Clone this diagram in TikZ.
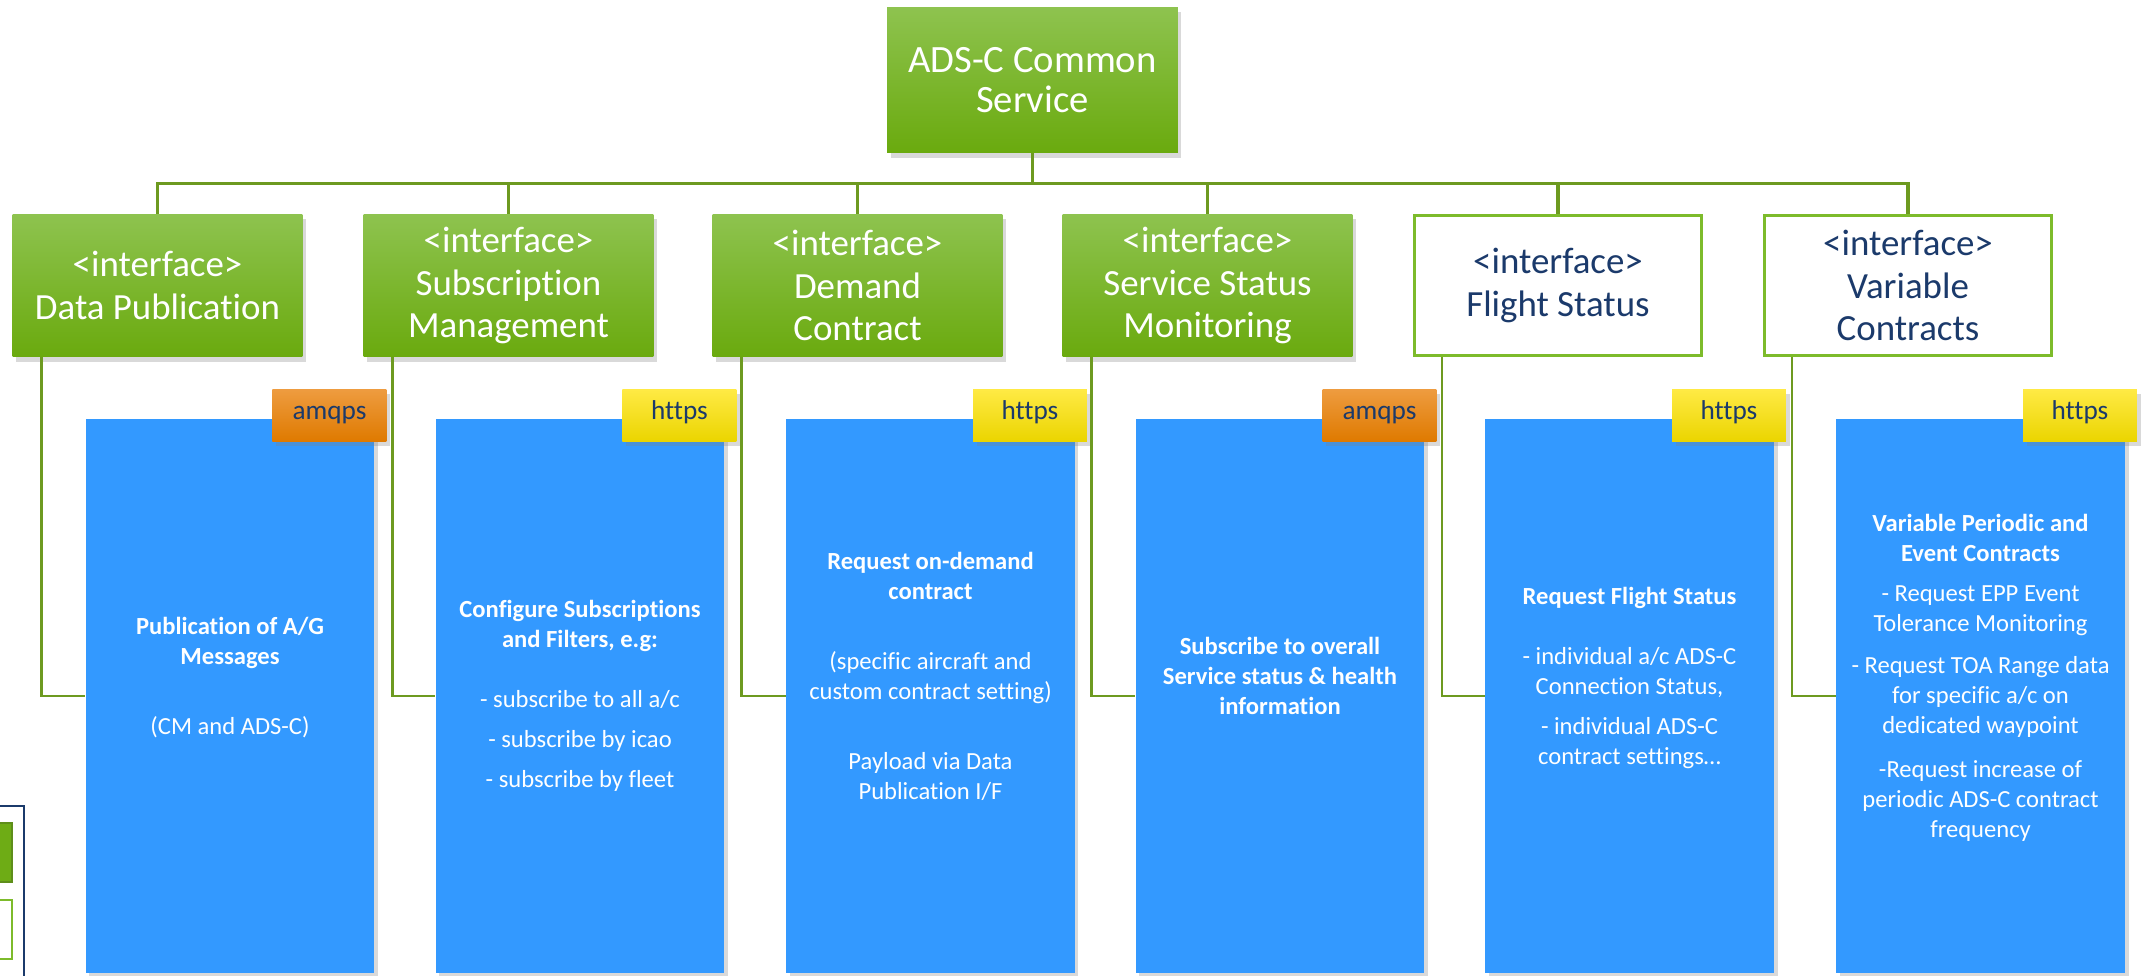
\documentclass[tikz,border=0pt]{standalone}
\usepackage{fontspec}
\setmainfont[Ligatures=NoCommon]{Carlito}
\usepackage{tikz}
\usetikzlibrary{positioning,shadows}

\definecolor{leaftop}{HTML}{8EC34F}
\definecolor{leafbottom}{HTML}{6AAA0E}
\definecolor{leafdark}{HTML}{5E8E1A}
\definecolor{linegreen}{HTML}{6D9A20}
\definecolor{rimgreen}{HTML}{7DBB2B}
\definecolor{skyblue}{HTML}{3399FF}
\definecolor{navytext}{HTML}{1B3A6B}
\definecolor{orangetop}{HTML}{EE9C40}
\definecolor{orangebottom}{HTML}{DF7A00}
\definecolor{yellowtop}{HTML}{FFEA45}
\definecolor{yellowbottom}{HTML}{EBD500}

\begin{document}
\begin{tikzpicture}[x=0.02cm,y=-0.02cm,
  boxshadow/.style={drop shadow={shadow xshift=2pt,shadow yshift=-3pt,opacity=.3}},
  rootbox/.style={rectangle,top color=leaftop,bottom color=leafbottom,text=white,align=center,boxshadow,
    minimum width=5.82cm,minimum height=2.92cm,font=\fontsize{22}{23}\selectfont},
  iface/.style={rectangle,top color=leaftop,bottom color=leafbottom,text=white,align=center,boxshadow,
    minimum width=5.8cm,minimum height=2.86cm,font=\fontsize{21}{24.4}\selectfont},
  openface/.style={rectangle,draw=rimgreen,line width=1.6pt,fill=white,text=navytext,align=center,
    minimum width=5.74cm,minimum height=2.8cm,font=\fontsize{21}{24.4}\selectfont},
  task/.style={rectangle,fill=skyblue,text=white,align=center,inner sep=0pt,boxshadow,
    minimum width=5.78cm,minimum height=11.08cm,font=\fontsize{14}{17}\selectfont},
  tag/.style={rectangle,anchor=north east,text=navytext,boxshadow,text height=1.45ex,text depth=0.5ex,
    minimum width=2.28cm,minimum height=1.04cm,font=\fontsize{15.5}{18}\selectfont},
  amqpstag/.style={tag,top color=orangetop,bottom color=orangebottom},
  httpstag/.style={tag,top color=yellowtop,bottom color=yellowbottom},
  link/.style={draw=linegreen,line width=1.4pt},
  bus/.style={draw=linegreen,line width=1.8pt}]

\useasboundingbox (0,0) rectangle (2154,976);
\clip (0,0) rectangle (2154,976);

% legend (cut off at the left)
\node (legend) [draw=navytext,line width=1.2pt,fill=white,anchor=north east,minimum width=3cm,minimum height=5cm] at (25,805) {};
\node (keyfilled) [draw=leafdark,line width=1.2pt,fill=leafbottom!90!leaftop,anchor=north east,minimum width=2cm,minimum height=1.18cm] at (13,822) {};
\node (keyplain) [draw=rimgreen,line width=1.2pt,fill=white,anchor=north east,minimum width=2cm,minimum height=1.18cm] at (13,899) {};

% top
\node (root) [rootbox] at (1032.5,80) {ADS-C Common\\Service};

% interfaces
\node (dpub) [iface] at (157.5,285.5) {<interface>\\Data Publication};
\node (subm) [iface] at (508.5,285.5) {<interface>\\Subscription\\Management};
\node (dcon) [iface] at (857.5,285.5) {<interface>\\Demand\\Contract};
\node (ssm) [iface] at (1207.5,285.5) {<interface>\\Service Status\\Monitoring};
\node (fst) [openface] at (1558,285.5) {<interface>\\Flight Status};
\node (vcon) [openface] at (1908,285.5) {<interface>\\Variable\\Contracts};

% operations
\node (pub) [task] at (230,696) {\textbf{Publication of A/G}\\\textbf{Messages}\\[23pt](CM and ADS-C)\\[6pt]\mbox{}};
\node (cfg) [task] at (580,696) {\textbf{Configure Subscriptions}\\\textbf{and Filters, e.g:}\\[17pt]- subscribe to all a/c\\[6pt]- subscribe by icao\\[6pt]- subscribe by fleet};
\node (req) [task] at (930.5,696) {\textbf{Request on-demand}\\\textbf{contract}\\[23pt](specific aircraft and\\custom contract setting)\\[23pt]Payload via Data\\Publication I/F\\[6pt]\mbox{}};
\node (sub) [task] at (1280,696) {\textbf{Subscribe to overall}\\\textbf{Service status \& health}\\\textbf{information}\\[6pt]\mbox{}};
\node (flt) [task] at (1629.5,696) {\textbf{Request Flight Status}\\[17pt]- individual a/c ADS-C\\Connection Status,\\[6pt]- individual ADS-C\\contract settings…\\[6pt]\mbox{}};
\node (var) [task] at (1980.5,696) {\textbf{Variable Periodic and}\\\textbf{Event Contracts}\\[6pt]- Request EPP Event\\Tolerance Monitoring\\[7pt]- Request TOA Range data\\for specific a/c on\\dedicated waypoint\\[8pt]-Request increase of\\periodic ADS-C contract\\frequency\\[6pt]\mbox{}};

% protocols
\node (pubtag) [amqpstag] at ([xshift=0.24cm,yshift=0.6cm]pub.north east) {amqps};
\node (cfgtag) [httpstag] at ([xshift=0.24cm,yshift=0.6cm]cfg.north east) {https};
\node (reqtag) [httpstag] at ([xshift=0.24cm,yshift=0.6cm]req.north east) {https};
\node (subtag) [amqpstag] at ([xshift=0.24cm,yshift=0.6cm]sub.north east) {amqps};
\node (flttag) [httpstag] at ([xshift=0.24cm,yshift=0.6cm]flt.north east) {https};
\node (vartag) [httpstag] at ([xshift=0.24cm,yshift=0.6cm]var.north east) {https};

% tree
\draw [bus] (root.south) -- ++(0,30) -| (dpub.north);
\draw [bus] (root.south) -- ++(0,30) -| (subm.north);
\draw [bus] (root.south) -- ++(0,30) -| (dcon.north);
\draw [bus] (root.south) -- ++(0,30) -| (ssm.north);
\draw [bus] (root.south) -- ++(0,30) -| (fst.north);
\draw [bus] (root.south) -- ++(0,30) -| (vcon.north);

\draw [link] ([xshift=-2.32cm]dpub.south) |- (pub.west);
\draw [link] ([xshift=-2.32cm]subm.south) |- (cfg.west);
\draw [link] ([xshift=-2.32cm]dcon.south) |- (req.west);
\draw [link] ([xshift=-2.32cm]ssm.south) |- (sub.west);
\draw [link] ([xshift=-2.32cm]fst.south) |- (flt.west);
\draw [link] ([xshift=-2.32cm]vcon.south) |- (var.west);
\end{tikzpicture}
\end{document}
